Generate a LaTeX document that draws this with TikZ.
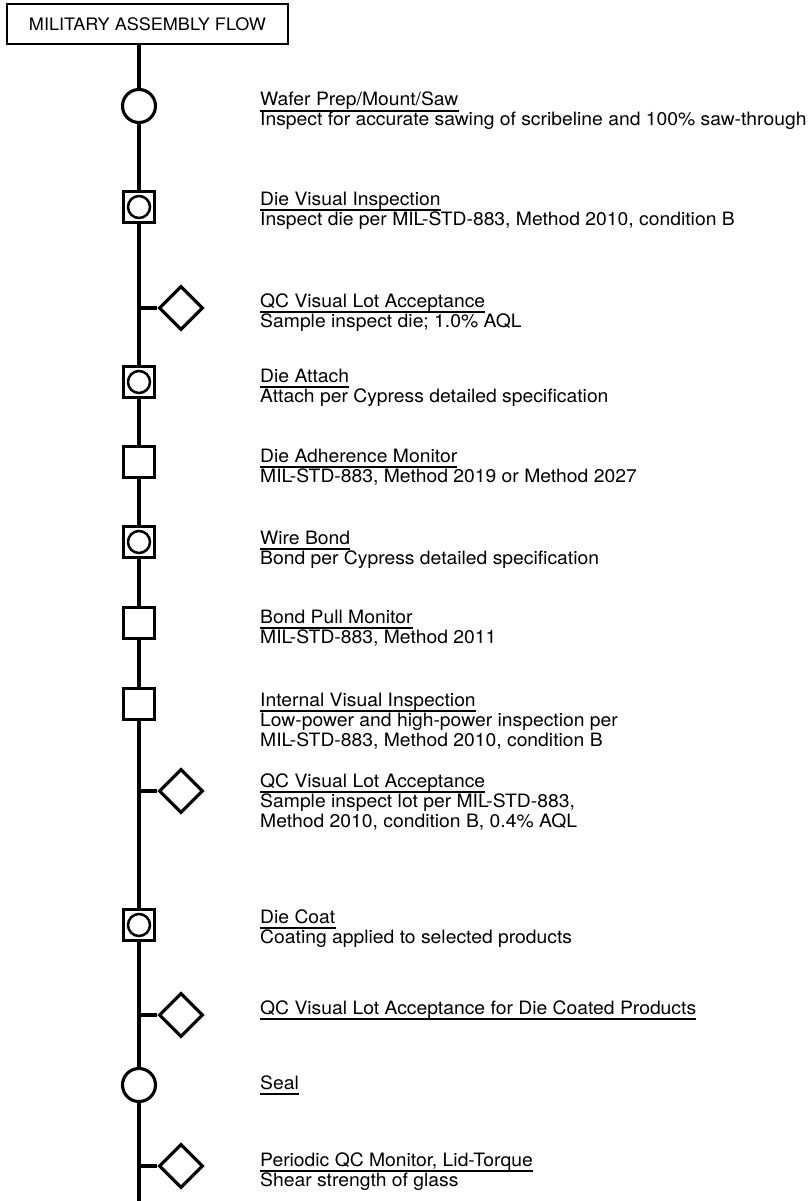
\documentclass[tikz,border=0pt]{standalone}
\usepackage{fontspec}
\setmainfont{TeX Gyre Heros}[FakeStretch=1.05]
\usetikzlibrary{shapes.geometric}

\newcommand{\bodysize}{\fontsize{18.4}{20}\selectfont}
\newcommand{\headsize}{\fontsize{17.2}{20}\selectfont}

\tikzset{
  flowline/.style={line width=3.1pt},
  uline/.style={line width=1.3pt},
  rnd/.style={draw, circle, line width=3.1pt, minimum size=33pt, inner sep=0pt, fill=white},
  sq/.style={draw, rectangle, line width=3.1pt, minimum size=31pt, inner sep=0pt, fill=white},
  sqrnd/.style={sq, path picture={\draw[line width=2.5pt] (path picture bounding box.center) circle (11pt);}},
  dmd/.style={draw, diamond, aspect=1, line width=3.1pt, minimum size=44pt, inner sep=0pt, fill=white},
  ttl/.style={anchor=base west, inner sep=0pt, font=\bodysize},
  dsc/.style={anchor=base west, inner sep=0pt, font=\bodysize},
}

\begin{document}
\begin{tikzpicture}[x=1pt, y=-1pt]
\useasboundingbox (0,0) rectangle (807,1201);

\node[draw, line width=2.8pt, minimum width=281pt, minimum height=40pt, font=\headsize] at (147.5,24) (hdr) {MILITARY ASSEMBLY FLOW};

% symbols on the flow line
\node[rnd] at (139,106) (s1) {};
\node[sqrnd] at (139,207) (s2) {};
\node[dmd] at (181,308) (s3) {};
\node[sqrnd] at (139,382) (s4) {};
\node[sq] at (139,462) (s5) {};
\node[sqrnd] at (139,542) (s6) {};
\node[sq] at (139,623) (s7) {};
\node[sq] at (139,704) (s8) {};
\node[dmd] at (181,791) (s9) {};
\node[sqrnd] at (139,925) (s10) {};
\node[dmd] at (181,1015) (s11) {};
\node[rnd] at (139,1085) (s12) {};
\node[dmd] at (181,1166) (s13) {};

\coordinate (j3) at (139,308);
\coordinate (j9) at (139,791);
\coordinate (j11) at (139,1015);
\coordinate (j13) at (139,1166);
\coordinate (bot) at (139,1201);

\draw[flowline] (s1 |- hdr.south) -- (s1);
\draw[flowline] (s1) -- (s2);
\draw[flowline] (s2) -- (s4);
\draw[flowline] (s4) -- (s5);
\draw[flowline] (s5) -- (s6);
\draw[flowline] (s6) -- (s7);
\draw[flowline] (s7) -- (s8);
\draw[flowline] (s8) -- (s10);
\draw[flowline] (s10) -- (s12);
\draw[flowline] (s12) -- (bot);

\draw[flowline] (j3) -- (s3);
\draw[flowline] (j9) -- (s9);
\draw[flowline] (j11) -- (s11);
\draw[flowline] (j13) -- (s13);

% step texts
\node[ttl] at (260,106) (t1) {Wafer Prep/Mount/Saw};
\node[dsc] at (260,126) (d1) {Inspect for accurate sawing of scribeline and 100\% saw-through};

\node[ttl] at (260,205) (t2) {Die Visual Inspection};
\node[dsc] at (260,225) (d2) {Inspect die per MIL-STD-883, Method 2010, condition B};

\node[ttl] at (260,307) (t3) {QC Visual Lot Acceptance};
\node[dsc] at (260,327) (d3) {Sample inspect die; 1.0\% AQL};

\node[ttl] at (260,382) (t4) {Die Attach};
\node[dsc] at (260,402) (d4) {Attach per Cypress detailed specification};

\node[ttl] at (260,462) (t5) {Die Adherence Monitor};
\node[dsc] at (260,482) (d5) {MIL-STD-883, Method 2019 or Method 2027};

\node[ttl] at (260,544) (t6) {Wire Bond};
\node[dsc] at (260,564) (d6) {Bond per Cypress detailed specification};

\node[ttl] at (260,623) (t7) {Bond Pull Monitor};
\node[dsc] at (260,643) (d7) {MIL-STD-883, Method 2011};

\node[ttl] at (260,706) (t8) {Internal Visual Inspection};
\node[dsc] at (260,726) (d8a) {Low-power and high-power inspection per};
\node[dsc] at (260,746) (d8b) {MIL-STD-883, Method 2010, condition B};

\node[ttl] at (260,787) (t9) {QC Visual Lot Acceptance};
\node[dsc] at (260,807) (d9a) {Sample inspect lot per MIL-STD-883,};
\node[dsc] at (260,827) (d9b) {Method 2010, condition B, 0.4\% AQL};

\node[ttl] at (260,923) (t10) {Die Coat};
\node[dsc] at (260,943) (d10) {Coating applied to selected products};

\node[ttl] at (260,1014) (t11) {QC Visual Lot Acceptance for Die Coated Products};

\node[ttl] at (260,1089) (t12) {Seal};

\node[ttl] at (260,1166) (t13) {Periodic QC Monitor, Lid-Torque};
\node[dsc] at (260,1186) (d13) {Shear strength of glass};

% underlines of the titles
\draw[uline] ([yshift=-5pt]t1.base west) -- ([yshift=-5pt]t1.base east);
\draw[uline] ([yshift=-5pt]t2.base west) -- ([yshift=-5pt]t2.base east);
\draw[uline] ([yshift=-5pt]t3.base west) -- ([yshift=-5pt]t3.base east);
\draw[uline] ([yshift=-5pt]t4.base west) -- ([yshift=-5pt]t4.base east);
\draw[uline] ([yshift=-5pt]t5.base west) -- ([yshift=-5pt]t5.base east);
\draw[uline] ([yshift=-5pt]t6.base west) -- ([yshift=-5pt]t6.base east);
\draw[uline] ([yshift=-5pt]t7.base west) -- ([yshift=-5pt]t7.base east);
\draw[uline] ([yshift=-5pt]t8.base west) -- ([yshift=-5pt]t8.base east);
\draw[uline] ([yshift=-5pt]t9.base west) -- ([yshift=-5pt]t9.base east);
\draw[uline] ([yshift=-5pt]t10.base west) -- ([yshift=-5pt]t10.base east);
\draw[uline] ([yshift=-5pt]t11.base west) -- ([yshift=-5pt]t11.base east);
\draw[uline] ([yshift=-5pt]t12.base west) -- ([yshift=-5pt]t12.base east);
\draw[uline] ([yshift=-5pt]t13.base west) -- ([yshift=-5pt]t13.base east);
\end{tikzpicture}
\end{document}
